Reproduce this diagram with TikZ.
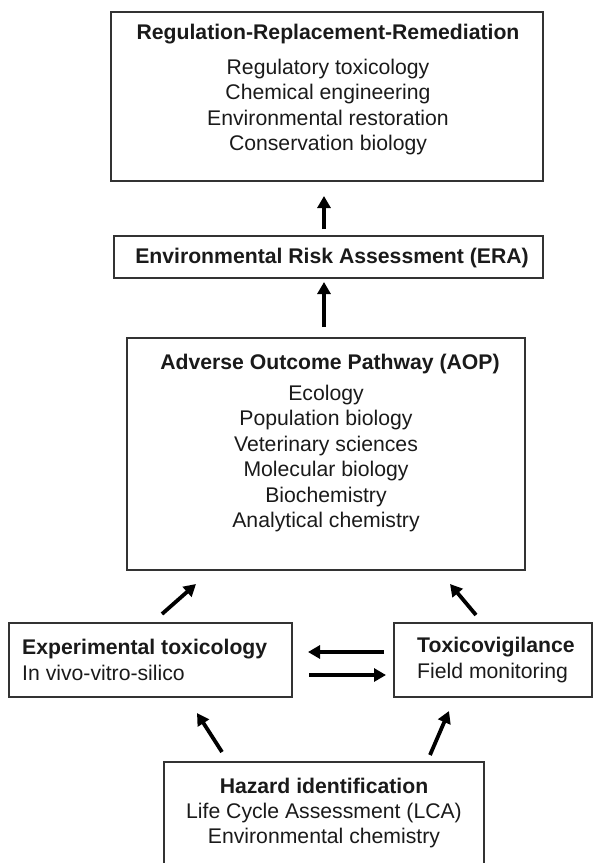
\documentclass[tikz,border=0pt]{standalone}
\usepackage{fontspec}
\setmainfont{Liberation Sans}
\usetikzlibrary{arrows.meta}
\definecolor{ink}{HTML}{1A1A1A}
\definecolor{frame}{HTML}{333333}
\tikzset{
  box/.style={draw=frame, line width=1.2pt, rectangle, inner sep=0pt},
  txt/.style={text=ink, inner sep=0pt, font=\fontsize{21.2}{25.5}\selectfont},
  ttl/.style={txt, font=\fontsize{21.2}{25.5}\selectfont\bfseries},
  arr/.style={draw=black, line width=3.8pt, -{Triangle[length=12pt,width=13pt]}}
}
\begin{document}
\begin{tikzpicture}[x=1pt,y=-1pt]
\useasboundingbox (0,0) rectangle (593,863);
% boxes
\node[box, minimum width=432, minimum height=169] (rrr) at (327,96.5) {};
\node[box, minimum width=429, minimum height=42] (era) at (328.5,257) {};
\node[box, minimum width=398, minimum height=232] (aop) at (326,454) {};
\node[box, minimum width=283, minimum height=74] (exp) at (150.5,660) {};
\node[box, minimum width=198, minimum height=74] (tox) at (493,660) {};
\node[box, minimum width=320, minimum height=116] (haz) at (324,820) {};
% texts
\node[ttl] (rrrT) at (328,34.5) {Regulation-Replacement-Remediation};
\node[txt, align=center] (rrrB) at (328,107) {Regulatory toxicology\\Chemical engineering\\Environmental restoration\\Conservation biology};
\node[ttl] (eraT) at (332,258) {Environmental Risk Assessment (ERA)};
\node[ttl] (aopT) at (330,364) {Adverse Outcome Pathway (AOP)};
\node[txt, align=center] (aopB) at (326,458.5) {Ecology\\Population biology\\Veterinary sciences\\Molecular biology\\Biochemistry\\Analytical chemistry};
\node[txt, align=left, anchor=west] (expT) at (22,660) {\bfseries Experimental toxicology\\In vivo-vitro-silico};
\node[txt, align=left, anchor=west] (toxT) at (417,660) {\bfseries Toxicovigilance\\Field monitoring};
\node[ttl] (hazT) at (324,786) {Hazard identification};
\node[txt, align=center] (hazB) at (324,825.5) {Life Cycle Assessment (LCA)\\Environmental chemistry};
% arrow end points
\coordinate (a1s) at (324,229); \coordinate (a1e) at (324,196);
\coordinate (a2s) at (324,327); \coordinate (a2e) at (324,282);
\coordinate (a3s) at (162,614); \coordinate (a3e) at (196,584);
\coordinate (a4s) at (476,615); \coordinate (a4e) at (450,584);
\coordinate (a5s) at (384,652); \coordinate (a5e) at (308,652);
\coordinate (a6s) at (309,675); \coordinate (a6e) at (386,675);
\coordinate (a7s) at (222,752); \coordinate (a7e) at (197,713);
\coordinate (a8s) at (430,755); \coordinate (a8e) at (449,711);
\draw[arr] (a1s) -- (a1e);
\draw[arr] (a2s) -- (a2e);
\draw[arr] (a3s) -- (a3e);
\draw[arr] (a4s) -- (a4e);
\draw[arr] (a5s) -- (a5e);
\draw[arr] (a6s) -- (a6e);
\draw[arr] (a7s) -- (a7e);
\draw[arr] (a8s) -- (a8e);
\end{tikzpicture}
\end{document}
